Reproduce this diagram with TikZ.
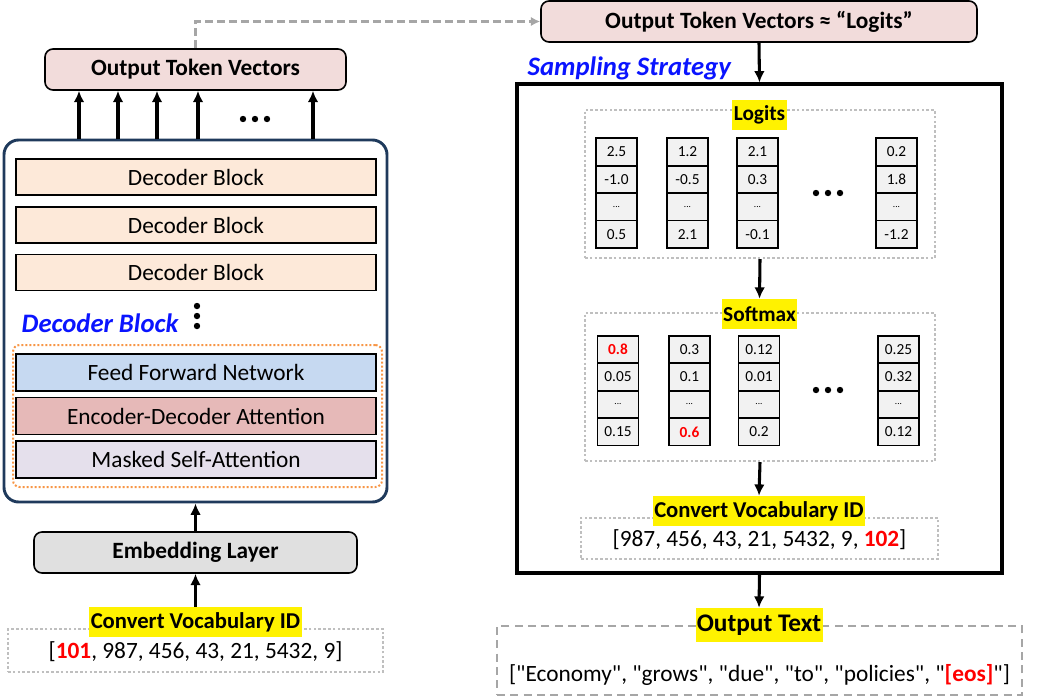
\documentclass[tikz,border=0pt]{standalone}
\usepackage{fontspec}
\setmainfont{Carlito}
\usepackage{xcolor}
\usetikzlibrary{arrows.meta,positioning}
\definecolor{outpink}{HTML}{F2DCDB}
\definecolor{peach}{HTML}{FDE9D9}
\definecolor{ffnblue}{HTML}{C6D9F1}
\definecolor{encred}{HTML}{E6B9B8}
\definecolor{lavender}{HTML}{E5E0EC}
\definecolor{embgray}{HTML}{E0E0E0}
\definecolor{navy}{HTML}{1F3A5C}
\definecolor{dotorange}{HTML}{F79646}
\definecolor{boxgray}{HTML}{BFBFBF}
\definecolor{dashgray}{HTML}{A6A6A6}
\definecolor{cellgray}{HTML}{F2F2F2}
\definecolor{titleblue}{HTML}{0A14FF}
\newcommand{\veccol}[7]{%
  \node[cell] (#1a) at (#2,#3) {#4};
  \node[cell, below=0pt of #1a] (#1b) {#5};
  \node[cell, below=0pt of #1b] (#1c) {#6};
  \node[cell, below=0pt of #1c] (#1d) {#7};}
\newcommand{\hi}[1]{\textcolor{red}{\textbf{#1}}}
\newcommand{\qt}{\textquotedbl}

\begin{document}
\begin{tikzpicture}[x=0.75pt, y=-0.75pt,
  every node/.style={font=\fontsize{17.5}{20}\selectfont},
  layer/.style={draw=black, line width=1.2pt, minimum width=270pt, minimum height=27pt, inner sep=0pt},
  header/.style={draw=black, line width=1.2pt, rounded corners=6pt, minimum height=30.75pt, font=\fontsize{17.5}{20}\selectfont\bfseries},
  tag/.style={fill=yellow, inner sep=1pt, minimum height=22.5pt, font=\fontsize{17}{20}\selectfont\bfseries},
  cell/.style={draw=black, line width=1.2pt, fill=cellgray, minimum width=30.75pt, minimum height=20.6pt, inner sep=0pt, outer sep=0pt, font=\fontsize{11.5}{13}\selectfont},
  dotbox/.style={draw=boxgray, line width=1.8pt, dash pattern=on 2pt off 1.6pt},
  title/.style={anchor=west, text=titleblue, font=\fontsize{20}{24}\selectfont\bfseries\itshape},
  arr/.style={-{Latex[length=8.5pt,width=8pt]}, line width=2.3pt}]
\useasboundingbox (0,0) rectangle (1049,697);

% Decoder stack
\node[draw=navy, line width=2.2pt, rounded corners=11pt, minimum width=287.25pt, minimum height=271.5pt] (dec) at (195.5,321) {};
\node[layer, fill=peach] (blk1) at (196,177) {Decoder Block};
\node[layer, fill=peach] (blk2) at (196,225) {Decoder Block};
\node[layer, fill=peach] (blk3) at (196,272.5) {Decoder Block};
\node[title] (declabel) at (17,323) {Decoder Block};
\foreach \y in {306,316,326} \fill (197,\y) circle (2.4pt);
\node[draw=dotorange, line width=1.5pt, dash pattern=on 1.5pt off 1.5pt, rounded corners=5pt, minimum width=276.75pt, minimum height=106.5pt] (inner) at (197.5,416) {};
\node[layer, fill=ffnblue, minimum height=27.75pt] (ffn) at (196,372.5) {Feed Forward Network};
\node[layer, fill=encred, minimum height=27.75pt] (enc) at (196,416) {Encoder-Decoder Attention};
\node[layer, fill=lavender, minimum height=27.75pt] (msa) at (196,459.5) {Masked Self-Attention};

% Output token vectors
\node[header, fill=outpink, minimum width=225.75pt] (outL) at (195.5,69.5) {Output Token Vectors};
\foreach \x in {79,118,157,198,313} \draw[arr] (dec.north -| \x,0) -- (outL.south -| \x,0);
\foreach \x in {243,255,267} \fill (\x,119) circle (2.4pt);

% Embedding and input ids
\node[header, fill=embgray, minimum width=242.25pt] (emb) at (195.5,552.5) {Embedding Layer};
\node[dotbox, minimum width=281.25pt, minimum height=32.25pt] (inbox) at (195.5,650.5) {};
\node (inids) at (195.5,652) {[\hi{101}, 987, 456, 43, 21, 5432, 9]};
\node[tag] (intag) at (195.5,622) {Convert Vocabulary ID};
\draw[arr] (emb.north) -- (dec.south);
\draw[arr] (intag.north) -- (emb.south);

% Logits
\node[header, fill=outpink, minimum width=327pt] (outR) at (759,21.5) {Output Token Vectors ≈ “Logits”};
\draw[dashgray, line width=2pt, dash pattern=on 6pt off 3pt, -{Latex[length=7pt,width=7pt]}] (outL.north) |- (outR.west);

% Sampling strategy
\node[draw=black, line width=2.3pt, minimum width=363.75pt, minimum height=366.75pt] (samp) at (759.5,328.5) {};
\node[title] (samplabel) at (523,68) {Sampling Strategy};
\draw[arr] (outR.south) -- (samp.north);

\node[dotbox, minimum width=262.5pt, minimum height=111pt] (logbox) at (760,184) {};
\node[tag, minimum height=22.5pt, font=\fontsize{16}{18}\selectfont\bfseries] (logtag) at (759.5,115) {Logits};
\veccol{la}{616.5}{152}{2.5}{-1.0}{\scriptsize...}{0.5}
\veccol{lb}{687.5}{152}{1.2}{-0.5}{\scriptsize...}{2.1}
\veccol{lc}{757.5}{152}{2.1}{0.3}{\scriptsize...}{-0.1}
\veccol{ld}{896.5}{152}{0.2}{1.8}{\scriptsize...}{-1.2}
\foreach \x in {816,828,840} \fill (\x,193) circle (2.4pt);

\node[dotbox, minimum width=262.5pt, minimum height=111pt] (softbox) at (760,387) {};
\node[tag, minimum height=22.5pt, font=\fontsize{16}{18}\selectfont\bfseries] (softtag) at (759.5,314) {Softmax};
\veccol{sa}{618}{349.5}{\hi{0.8}}{0.05}{\scriptsize...}{0.15}
\veccol{sb}{689.5}{349.5}{0.3}{0.1}{\scriptsize...}{\hi{0.6}}
\veccol{sc}{759}{349.5}{0.12}{0.01}{\scriptsize...}{0.2}
\veccol{sd}{898.5}{349.5}{0.25}{0.32}{\scriptsize...}{0.12}
\foreach \x in {816,828,840} \fill (\x,390) circle (2.4pt);
\draw[arr] (logbox.south) -- (softtag.north);

\node[dotbox, minimum width=267.75pt, minimum height=30.75pt] (idbox) at (759.5,538.5) {};
\node (outids) at (759.5,540) {[987, 456, 43, 21, 5432, 9, \hi{102}]};
\node[tag] (idtag) at (759,511) {Convert Vocabulary ID};
\draw[arr] (softbox.south) -- (idtag.north);

% Output text
\node[draw=dashgray, line width=1.5pt, dash pattern=on 6pt off 4pt, minimum width=393.75pt, minimum height=51.75pt] (textbox) at (759.5,660.5) {};
\node (outtext) at (759.5,675) {[\qt Economy\qt, \qt grows\qt, \qt due\qt, \qt to\qt, \qt policies\qt, \qt\hi{[eos]}\qt]};
\node[tag, minimum height=25.5pt, font=\fontsize{19}{22}\selectfont\bfseries] (texttag) at (759,625) {Output Text};
\draw[arr] (samp.south) -- (texttag.north);
\end{tikzpicture}
\end{document}
